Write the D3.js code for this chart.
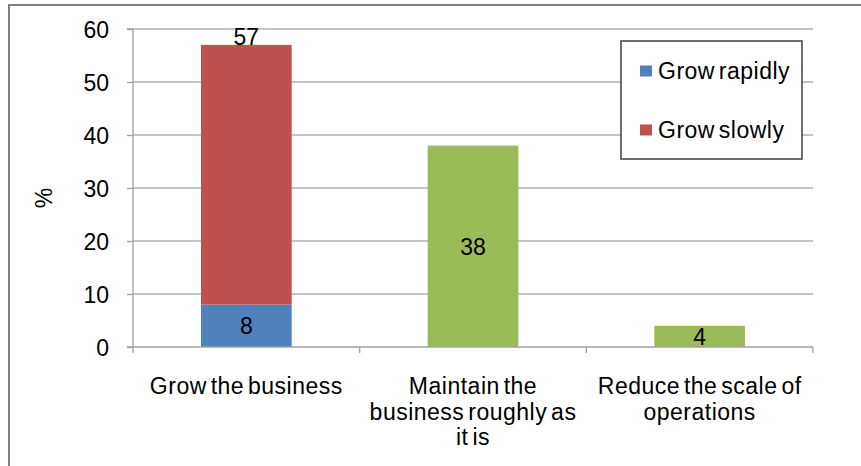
<!DOCTYPE html>
<html>
<head>
<meta charset="utf-8">
<script src="https://cdn.jsdelivr.net/npm/d3@7"></script>
<style>
  html, body { margin: 0; padding: 0; background: #fff; }
  svg { display: block; font-family: "Liberation Sans", Arial, sans-serif; }
</style>
</head>
<body>
<svg id="chart" width="861" height="466"></svg>
<script>
// Business plans: share of respondents (%)
const categories = ["Grow the business", "Maintain the business roughly as it is", "Reduce the scale of operations"];
const categoryLines = [["Grow the business"], ["Maintain the", "business roughly as", "it is"], ["Reduce the scale of", "operations"]];
const growRapidly = [8, 0, 0];
const growSlowly = [49, 0, 0];
const otherPlans = [0, 38, 4];
const yTicks = [0, 10, 20, 30, 40, 50, 60];
const seriesNames = ["Grow rapidly", "Grow slowly"];

const colors = { rapid: "#4F81BD", slow: "#C0504D", other: "#9BBB59" };

const svg = d3.select("#chart");
const plotLeft = 133, plotRight = 813, plotTop = 29, plotBottom = 347;
const fontSize = 23;

// outer frame
svg.append("path")
  .attr("d", "M9,470 L9,5 L870,5")
  .attr("fill", "none").attr("stroke", "#808080").attr("stroke-width", 2);

const x = d3.scaleBand().domain(categories).range([plotLeft, plotRight]).padding(0);
const y = d3.scaleLinear().domain([0, 60]).range([plotBottom, plotTop]);
const barW = x.bandwidth() * 0.4;
const barX = c => x(c) + (x.bandwidth() - barW) / 2;

// gridlines
svg.append("g").selectAll("line").data(yTicks.filter(t => t > 0)).join("line")
  .attr("x1", plotLeft).attr("x2", plotRight)
  .attr("y1", d => y(d)).attr("y2", d => y(d))
  .attr("stroke", "#B0B0B0").attr("stroke-width", 1.3);

// y axis
const yAxis = svg.append("g").attr("transform", `translate(${plotLeft},0)`)
  .call(d3.axisLeft(y).tickValues(yTicks).tickSize(6).tickPadding(18));
yAxis.select(".domain").attr("stroke", "#A0A0A0").attr("stroke-width", 1.3)
  .attr("d", `M-6,${plotTop}H0V${plotBottom}H-6`);
yAxis.selectAll(".tick line").attr("stroke", "#A0A0A0").attr("stroke-width", 1.3);
yAxis.selectAll(".tick text").attr("font-size", fontSize).attr("fill", "#000")
  .attr("font-family", "'Liberation Sans', Arial, sans-serif").attr("dy", "0.36em");

// y axis title
svg.append("text")
  .attr("transform", `translate(52,${(plotTop + plotBottom) / 2 + 10}) rotate(-90)`)
  .attr("text-anchor", "middle").attr("font-size", fontSize).text("%");

// stacked bars
const stacked = categories.map((c, i) => ({
  c,
  segs: [
    { v0: 0, v1: growRapidly[i], color: colors.rapid, label: growRapidly[i] },
    { v0: growRapidly[i], v1: growRapidly[i] + growSlowly[i], color: colors.slow },
    { v0: growRapidly[i] + growSlowly[i], v1: growRapidly[i] + growSlowly[i] + otherPlans[i], color: colors.other, label: otherPlans[i] }
  ]
}));

const barsG = svg.append("g");
stacked.forEach(d => {
  d.segs.filter(s => s.v1 > s.v0).forEach(s => {
    barsG.append("rect")
      .attr("x", barX(d.c)).attr("width", barW)
      .attr("y", y(s.v1)).attr("height", y(s.v0) - y(s.v1))
      .attr("fill", s.color);
  });
});

// x axis
const xAxisG = svg.append("g");
xAxisG.append("line").attr("x1", plotLeft).attr("x2", plotRight).attr("y1", plotBottom).attr("y2", plotBottom)
  .attr("stroke", "#A0A0A0").attr("stroke-width", 1.3);
const bounds = categories.map(c => x(c)).concat([plotRight]);
xAxisG.selectAll("line.tk").data(bounds).join("line").attr("class", "tk")
  .attr("x1", d => d).attr("x2", d => d).attr("y1", plotBottom).attr("y2", plotBottom + 6)
  .attr("stroke", "#A0A0A0").attr("stroke-width", 1.3);

// category labels
categories.forEach((c, i) => {
  const t = svg.append("text")
    .attr("text-anchor", "middle").attr("font-size", fontSize)
    .attr("letter-spacing", 0.5).attr("word-spacing", -3);
  categoryLines[i].forEach((line, j) => {
    t.append("tspan").attr("x", x(c) + x.bandwidth() / 2).attr("y", 394 + j * 25.5).text(line);
  });
});

// value labels
const labelsG = svg.append("g").attr("font-size", fontSize).attr("text-anchor", "middle");
stacked.forEach(d => {
  const cx = x(d.c) + x.bandwidth() / 2;
  d.segs.filter(s => s.label > 0).forEach(s => {
    labelsG.append("text").attr("x", cx).attr("y", (y(s.v0) + y(s.v1)) / 2).attr("dy", "0.36em").text(s.label);
  });
});
// total label on top of stacked bar
stacked.forEach((d, i) => {
  if (growSlowly[i] > 0) {
    const total = growRapidly[i] + growSlowly[i];
    labelsG.append("text").attr("x", x(d.c) + x.bandwidth() / 2).attr("y", y(total)).text(total);
  }
});

// legend
const lg = svg.append("g");
lg.append("rect").attr("x", 621).attr("y", 41).attr("width", 181).attr("height", 118)
  .attr("fill", "#fff").attr("stroke", "#404040").attr("stroke-width", 1.5);
const legendColors = [colors.rapid, colors.slow];
seriesNames.forEach((n, i) => {
  const cy = 71 + i * 59;
  lg.append("rect").attr("x", 640).attr("y", cy - 5.5).attr("width", 12).attr("height", 11).attr("fill", legendColors[i]);
  lg.append("text").attr("x", 658).attr("y", cy + 8).attr("font-size", fontSize)
    .attr("letter-spacing", 0.5).attr("word-spacing", -3).text(n);
});
</script>
</body>
</html>
